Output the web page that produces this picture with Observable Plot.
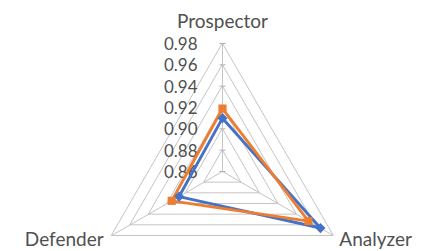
<!DOCTYPE html>
<html>
<head>
<meta charset="utf-8">
<script src="https://cdn.jsdelivr.net/npm/d3@7"></script>
<script src="https://cdn.jsdelivr.net/npm/@observablehq/plot@0.6"></script>
<style>
  html, body { margin: 0; padding: 0; background: #fff; }
  #chart svg { display: block; }
</style>
</head>
<body>
<div id="chart"></div>
<script>
const categories = ["Prospector", "Analyzer", "Defender"];
const seriesNames = ["Series 1", "Series 2"];
const series1 = [0.910, 0.966, 0.907];
const series2 = [0.919, 0.953, 0.915];
const tickValues = [0.86, 0.88, 0.90, 0.92, 0.94, 0.96, 0.98];
const tickLabels = ["0.86", "0.88", "0.90", "0.92", "0.94", "0.96", "0.98"];

const rMin = tickValues[0], rMax = tickValues[tickValues.length - 1];
const n = categories.length;
const ang = i => i * 2 * Math.PI / n;
const px = (v, i) => (v - rMin) * Math.sin(ang(i));
const py = (v, i) => (v - rMin) * Math.cos(ang(i));

const rings = [];
tickValues.slice(1).forEach(t => categories.forEach((c, i) => rings.push({t, i})));
const spokes = categories.map((c, i) => ({i, c}));
const pts = [];
[series1, series2].forEach((s, k) => s.forEach((v, i) => pts.push({k, i, v, name: seriesNames[k]})));
const ticks = tickValues.map((t, j) => ({t, label: tickLabels[j]}));

const hline = {draw(ctx, size) { const r = Math.sqrt(size / Math.PI); ctx.moveTo(-r, 0); ctx.lineTo(r, 0); }};
const colors = ["#4472C4", "#ED7D31"];
const symbols = ["diamond2", "square"];
const font = "Lato, 'Open Sans', sans-serif";

const plot = Plot.plot({
  width: 422, height: 251,
  margin: 0,
  x: {domain: [-0.208125, 0.1875], axis: null},
  y: {domain: [-0.075, 0.1603125], axis: null},
  style: {fontFamily: font, background: "#fff"},
  marks: [
    Plot.line(rings, {x: d => px(d.t, d.i), y: d => py(d.t, d.i), z: "t", curve: "linear-closed", stroke: "#c4c4c4", strokeWidth: 1}),
    Plot.link(spokes, {x1: 0, y1: 0, x2: d => px(rMax, d.i), y2: d => py(rMax, d.i), stroke: "#c4c4c4", strokeWidth: 1}),
    Plot.dot(ticks, {x: 0, y: d => d.t - rMin, symbol: hline, r: 3, stroke: "#b0b0b0", strokeWidth: 1}),
    Plot.text(ticks, {x: 0, y: d => d.t - rMin, text: "label", textAnchor: "end", dx: -25, dy: 1, fontSize: 17, fill: "#505050"}),
    ...[0, 1].map(k => Plot.line(pts.filter(d => d.k === k), {x: d => px(d.v, d.i), y: d => py(d.v, d.i), curve: "linear-closed", stroke: colors[k], strokeWidth: 2.9, strokeLinejoin: "round"})),
    ...[0, 1].map(k => Plot.dot(pts.filter(d => d.k === k), {x: d => px(d.v, d.i), y: d => py(d.v, d.i), symbol: symbols[k], r: 4.6, fill: colors[k], stroke: "none"})),
    Plot.text(spokes.filter(d => d.i === 0), {x: d => px(rMax, d.i), y: d => py(rMax, d.i), text: "c", dy: -21.5, fontSize: 19, fill: "#505050"}),
    Plot.text(spokes.filter(d => d.i === 1), {x: d => px(rMax, d.i), y: d => py(rMax, d.i), text: "c", textAnchor: "start", dx: 6, dy: 4, fontSize: 19, fill: "#505050"}),
    Plot.text(spokes.filter(d => d.i === 2), {x: d => px(rMax, d.i), y: d => py(rMax, d.i), text: "c", textAnchor: "end", dx: -8, dy: 4, fontSize: 19, fill: "#505050"})
  ]
});
document.getElementById("chart").appendChild(plot);
</script>
</body>
</html>
